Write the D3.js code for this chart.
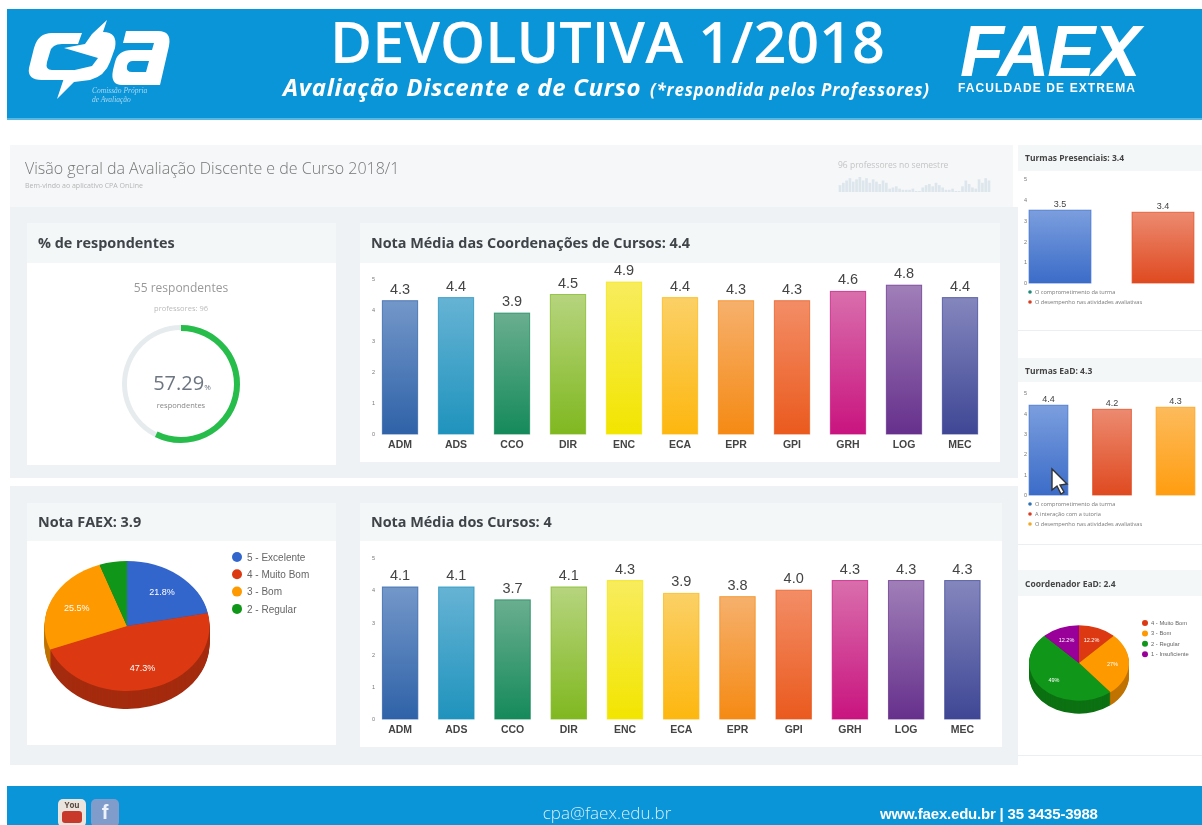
<!DOCTYPE html>
<html>
<head>
<meta charset="utf-8">
<title>Devolutiva 1/2018</title>
<script src="https://cdn.jsdelivr.net/npm/d3@7"></script>
<style>
  html, body { margin: 0; padding: 0; background: #fff; overflow: hidden; }
  svg { display: block; filter: blur(0.4px); }
  text { font-family: "Open Sans", sans-serif; }
  .arial { font-family: "Liberation Sans", Arial, sans-serif; }
</style>
</head>
<body>
<svg id="page" width="1202" height="825"></svg>
<script>
// ===== data =====
var courses = ["ADM","ADS","CCO","DIR","ENC","ECA","EPR","GPI","GRH","LOG","MEC"];
var coordValues = [4.3,4.4,3.9,4.5,4.9,4.4,4.3,4.3,4.6,4.8,4.4];
var courseValues = [4.1,4.1,3.7,4.1,4.3,3.9,3.8,4.0,4.3,4.3,4.3];
var barTops = ["#7397c9","#66b3d4","#6aae8f","#b6d47e","#f8ec5e","#fbd066","#f6b06c","#f38d66","#d96eac","#a07fb8","#8486bd"];
var barBottoms = ["#2f62a8","#1f93bd","#158a5a","#80b820","#f2e500","#fdb70f","#f58a14","#ea5a1e","#c9147f","#66308c","#3f4795"];

var presencialLabels = ["O comprometimento da turma","O desempenho nas atividades avaliativas"];
var presencialValues = [3.5,3.4];
var eadLabels = ["O comprometimento da turma","A interação com a tutoria","O desempenho nas atividades avaliativas"];
var eadValues = [4.4,4.2,4.3];

var faexLabels = ["5 - Excelente","4 - Muito Bom","3 - Bom","2 - Regular"];
var faexValues = [21.8,47.3,25.5,5.4];
var faexText = ["21.8%","47.3%","25.5%",""];
var coordEadLabels = ["4 - Muito Bom","3 - Bom","2 - Regular","1 - Insuficiente"];
var coordEadValues = [12.2,27,48.6,12.2];
var coordEadText = ["12.2%","27%","49%","12.2%"];

var respondentPct = 57.29;
var sparkValues = [5,7,9,11,8,10,12,9,11,7,10,8,6,9,7,2,3,4,2,1,1,1,2,0,0,3,5,6,4,7,5,3,1,1,2,0,0,4,9,6,3,2,10,7,11,9];
// =================

var blue = "#0a95d8";
var pieBlue = "#3366cc", pieRed = "#dc3912", pieOrange = "#ff9900", pieGreen = "#109618", piePurple = "#990099";
var svg = d3.select("#page");
var defs = svg.append("defs");

function rect(x, y, w, h, fill) {
  return svg.append("rect").attr("x", x).attr("y", y).attr("width", w).attr("height", h).attr("fill", fill);
}
function label(x, y, str, size, fill, anchor, weight) {
  return svg.append("text").attr("x", x).attr("y", y).text(str)
    .style("font-size", size + "px").attr("fill", fill)
    .attr("text-anchor", anchor || "start").style("font-weight", weight || 400);
}

//========= page background and banner =========
rect(7, 9, 1195, 109, blue);
rect(7, 786, 1195, 39, blue);
rect(7, 118, 1195, 2, "#57b8e4");
rect(10, 145, 1003, 62, "#f5f7f8");
rect(10, 207, 1008, 271, "#eef2f5");
rect(10, 486, 1008, 279, "#eef2f5");

label(607.5, 63, "DEVOLUTIVA 1/2018", 57.5, "#fff", "middle", 600);
label(283, 96, "Avaliação Discente e de Curso", 24, "#fff", "start", 700).style("font-style", "italic").style("letter-spacing", "0.7px");
label(650, 96, "(*respondida pelos Professores)", 17, "#fff", "start", 700).style("font-style", "italic").style("letter-spacing", "0.75px");

// cpa logo, drawn by hand
svg.append("path").attr("fill", "#fff")
  .attr("d", "M82,33 L52,33 Q38,33 34,48 L29,68 Q27,80 42,80 L70,80 L74,70 L52,70 Q45,70 47,62 L50,52 Q52,44 62,44 L78,44 Z");
svg.append("path").attr("fill", "#fff")
  .attr("d", "M107,20 L103,32 Q118,32 115,48 L110,62 Q105,76 90,80 L74,82 L57,99 L66,72 L92,66 L98,58 L64,48 L85,44 L92,34 Z");
svg.append("path").attr("fill", "#fff")
  .attr("d", "M126,31 L158,31 Q172,31 169,46 L160,85 L122,85 Q110,85 113,70 L115,62 Q118,50 132,50 L152,50 L154,43 L123,43 Z M133,61 Q128,61 127,66 Q126,72 132,72 L146,72 L149,61 Z")
  .attr("fill-rule", "evenodd");
svg.append("text").attr("x", 92).attr("y", 93).text("Comissão Própria").attr("fill", "#a9d8f1")
  .style("font-family", "'Liberation Serif', serif").style("font-style", "italic").style("font-size", "7.5px");
svg.append("text").attr("x", 92).attr("y", 102).text("de Avaliação").attr("fill", "#a9d8f1")
  .style("font-family", "'Liberation Serif', serif").style("font-style", "italic").style("font-size", "7.5px");

// faex logo
label(960, 76, "FAEX", 72, "#fff", "start", 700).attr("class", "arial").style("font-style", "italic").style("letter-spacing", "-2.4px");
label(958, 92, "FACULDADE DE EXTREMA", 12, "#fff", "start", 700).attr("class", "arial").style("letter-spacing", "1.1px");

//========= footer =========
svg.append("rect").attr("x", 58).attr("y", 799).attr("width", 28).attr("height", 28).attr("rx", 5).attr("fill", "#e9e4de");
svg.append("rect").attr("x", 62).attr("y", 811).attr("width", 20).attr("height", 12).attr("rx", 3).attr("fill", "#c8392b");
label(72, 808, "You", 8, "#5a4a40", "middle", 700);
svg.append("rect").attr("x", 91).attr("y", 799).attr("width", 28).attr("height", 28).attr("rx", 5).attr("fill", "#7f9ccb");
label(105, 819, "f", 20, "#eef3fa", "middle", 700).attr("class", "arial");
label(607, 819, "cpa@faex.edu.br", 17, "#d6eefa", "middle", 300);
label(880, 819, "www.faex.edu.br | 35 3435-3988", 15, "#fff", "start", 700).attr("class", "arial").style("letter-spacing", "-0.2px");

//========= overview strip =========
label(25, 174, "Visão geral da Avaliação Discente e de Curso 2018/1", 16, "#777", "start", 300);
label(25, 188, "Bem-vindo ao aplicativo CPA OnLine", 7, "#b5b5b5");
label(838, 168, "96 professores no semestre", 8.5, "#c4c4c4");

var sparkX = d3.scaleBand().domain(d3.range(sparkValues.length)).range([838, 991]).padding(0.2);
var sparkY = d3.scaleLinear().domain([0, 12]).range([191, 177]);
svg.append("g").selectAll("rect").data(sparkValues).join("rect")
  .attr("x", (d, i) => sparkX(i)).attr("width", sparkX.bandwidth())
  .attr("y", d => sparkY(d)).attr("height", d => sparkY(0) - sparkY(d) + 1)
  .attr("fill", "#dde6ec");

//========= cards =========
function card(x, y, w, h, headH, title, size) {
  rect(x, y, w, h, "#fff");
  rect(x, y, w, headH, "#f4f7f8");
  label(x + 11, y + headH / 2 + size * 0.36, title, size, "#3f4448", "start", 700);
}
card(27, 223, 309, 242, 40, "% de respondentes", 14.4);
card(360, 223, 640, 239, 40, "Nota Média das Coordenações de Cursos: 4.4", 14.4);
card(27, 503, 309, 242, 38, "Nota FAEX: 3.9", 14.4);
card(360, 503, 642, 244, 38, "Nota Média dos Cursos: 4", 14.4);

rect(1018, 145, 184, 26, "#f4f7f8");
rect(1018, 358, 184, 24, "#f4f7f8");
rect(1018, 570, 184, 26, "#f4f7f8");
rect(1018, 330, 184, 1, "#eceff1");
rect(1018, 544, 184, 1, "#eceff1");
rect(1018, 755, 184, 1, "#eceff1");
label(1025, 161, "Turmas Presenciais: 3.4", 8.5, "#444", "start", 700);
label(1025, 374, "Turmas EaD: 4.3", 8.5, "#444", "start", 700);
label(1025, 587, "Coordenador EaD: 2.4", 8.5, "#444", "start", 700);

//========= gauge =========
var gauge = svg.append("g").attr("transform", "translate(181,384)");
gauge.append("path").attr("fill", "#e6ecee")
  .attr("d", d3.arc().innerRadius(54).outerRadius(59).startAngle(0).endAngle(2 * Math.PI)());
gauge.append("path").attr("fill", "#27bd4b")
  .attr("d", d3.arc().innerRadius(53).outerRadius(59).startAngle(0).endAngle(2 * Math.PI * respondentPct / 100)());
label(181, 292, "55 respondentes", 12, "#999", "middle");
label(181, 311, "professores: 96", 7.5, "#bbb", "middle");
var pctText = label(182, 390, respondentPct.toFixed(2), 20, "#6d7680", "middle", 400);
pctText.append("tspan").text("%").style("font-size", "8px");
label(181, 408, "respondentes", 7.5, "#888", "middle");

//========= bars =========
function barChart(id, cats, values, tops, bottoms, o) {
  var x = d3.scaleBand().domain(cats).range(o.xRange).paddingInner(o.padding).paddingOuter(o.padding / 2);
  var y = d3.scaleLinear().domain([0, 5]).range(o.yRange);
  var g = svg.append("g");

  cats.forEach(function(c, i) {
    var grad = defs.append("linearGradient").attr("id", id + i)
      .attr("x1", 0).attr("x2", 0).attr("y1", 0).attr("y2", 1);
    grad.append("stop").attr("offset", "0%").attr("stop-color", tops[i]);
    grad.append("stop").attr("offset", "100%").attr("stop-color", bottoms[i]);
  });

  g.selectAll("rect").data(values).join("rect")
    .attr("x", (d, i) => x(cats[i]))
    .attr("width", x.bandwidth())
    .attr("y", d => y(d))
    .attr("height", d => y(0) - y(d))
    .attr("fill", (d, i) => `url(#${id}${i})`)
    .attr("stroke", (d, i) => bottoms[i])
    .attr("stroke-opacity", 0.75)
    .attr("stroke-width", 1);

  g.selectAll("text.val").data(values).join("text")
    .attr("class", "val arial")
    .attr("x", (d, i) => x(cats[i]) + x.bandwidth() / 2)
    .attr("y", d => y(d) - o.labelGap)
    .attr("text-anchor", "middle")
    .style("font-size", o.labelSize + "px")
    .attr("fill", "#444")
    .text(d => d.toFixed(1));

  var left = g.append("g").attr("transform", `translate(${o.axisX},0)`)
    .call(d3.axisLeft(y).ticks(5).tickSize(0).tickPadding(0));
  left.select(".domain").remove();
  left.selectAll("text").attr("class", "arial").style("font-size", "5.5px").attr("fill", "#777");

  if (o.showCats) {
    var bottom = g.append("g").attr("transform", `translate(0,${y(0)})`)
      .call(d3.axisBottom(x).tickSize(0).tickPadding(7));
    bottom.select(".domain").remove();
    bottom.selectAll("text").attr("class", "arial")
      .style("font-size", "10.5px").style("font-weight", 700).attr("fill", "#444");
  }
}

barChart("coord", courses, coordValues, barTops, barBottoms,
  { xRange: [372, 988], yRange: [434, 279], padding: 0.37, axisX: 375, labelGap: 7, labelSize: 14.5, showCats: true });
barChart("curso", courses, courseValues, barTops, barBottoms,
  { xRange: [372, 990.5], yRange: [719, 558], padding: 0.37, axisX: 375, labelGap: 7, labelSize: 14.5, showCats: true });

var smallTops = ["#7b9ede","#ec8a70","#fdbb5c"];
var smallBottoms = ["#3b6cc8","#df4a20","#ff9d10"];
barChart("pres", presencialLabels, presencialValues, smallTops, smallBottoms,
  { xRange: [1008.5, 1214.5], yRange: [283, 179], padding: 0.4, axisX: 1027, labelGap: 3, labelSize: 9, showCats: false });
barChart("ead", eadLabels, eadValues, smallTops, smallBottoms,
  { xRange: [1016.75, 1207.25], yRange: [495, 393], padding: 0.39, axisX: 1027, labelGap: 3, labelSize: 9, showCats: false });

function smallLegend(labels, colors, y0) {
  labels.forEach(function(t, i) {
    svg.append("circle").attr("cx", 1030).attr("cy", y0 + i * 10).attr("r", 1.8).attr("fill", colors[i]);
    label(1035, y0 + i * 10 + 2, t, 5.6, "#777");
  });
}
smallLegend(presencialLabels, ["#1f8a7a", "#df3a20"], 292);
smallLegend(eadLabels, ["#2f72b8", "#df3a20", "#f5a623"], 504);

// mouse pointer caught in the screenshot
svg.append("path").attr("fill", "#fff").attr("stroke", "#333").attr("stroke-width", 1.4)
  .attr("d", "M1052,469 L1052,490 L1057,486 L1061,494 L1064,492 L1060,485 L1067,484 Z");

//========= pies =========
function pie3d(values, texts, colors, o) {
  var slices = d3.pie().sort(null).value(d => d)(values);
  var arc = d3.arc().innerRadius(0).outerRadius(1);
  var labelArc = d3.arc().innerRadius(0.67).outerRadius(0.67);
  var g = svg.append("g").attr("transform", `translate(${o.cx},${o.cy})`);

  d3.range(o.depth, 0, -1).forEach(function(step) {
    g.append("g").attr("transform", `translate(0,${step}) scale(${o.rx},${o.ry})`)
      .selectAll("path").data(slices).join("path")
      .attr("d", arc).attr("fill", (d, i) => d3.rgb(colors[i]).darker(0.8));
  });
  g.append("g").attr("transform", `scale(${o.rx},${o.ry})`)
    .selectAll("path").data(slices).join("path")
    .attr("d", arc).attr("fill", (d, i) => colors[i]);
  g.selectAll("text").data(slices).join("text")
    .attr("class", "arial")
    .attr("x", d => labelArc.centroid(d)[0] * o.rx)
    .attr("y", d => labelArc.centroid(d)[1] * o.ry + o.textSize * 0.35)
    .attr("text-anchor", "middle")
    .style("font-size", o.textSize + "px")
    .attr("fill", "#fff")
    .text((d, i) => texts[i]);
}
function pieLegend(labels, colors, o) {
  labels.forEach(function(t, i) {
    svg.append("circle").attr("cx", o.x).attr("cy", o.y + i * o.step).attr("r", o.r).attr("fill", colors[i]);
    label(o.x + o.gap, o.y + i * o.step + o.size * 0.36, t, o.size, "#666").attr("class", "arial");
  });
}

var faexColors = [pieBlue, pieRed, pieOrange, pieGreen];
var coordColors = [pieRed, pieOrange, pieGreen, piePurple];
pie3d(faexValues, faexText, faexColors, { cx: 127, cy: 626, rx: 82.5, ry: 65, depth: 18, textSize: 9 });
pieLegend(faexLabels, faexColors, { x: 237, y: 557, step: 17.3, r: 5, gap: 10, size: 10 });
pie3d(coordEadValues, coordEadText, coordColors, { cx: 1079, cy: 663, rx: 50, ry: 37.7, depth: 13, textSize: 5.5 });
pieLegend(coordEadLabels, coordColors, { x: 1145, y: 623, step: 10.4, r: 3, gap: 6, size: 5.8 });
</script>
</body>
</html>
